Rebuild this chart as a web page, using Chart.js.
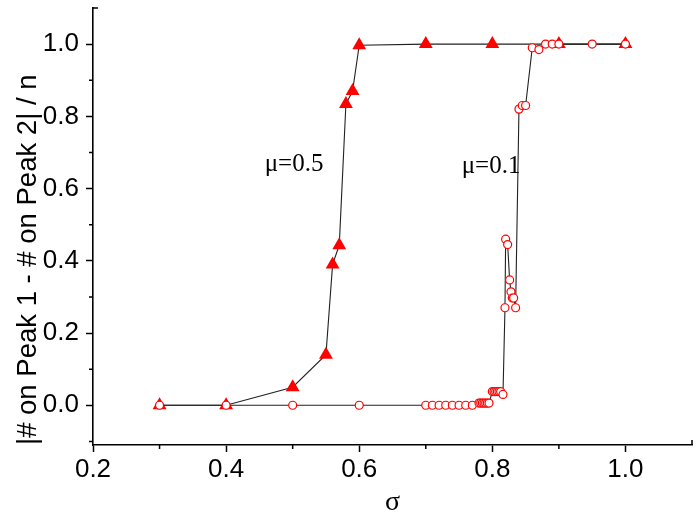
<!DOCTYPE html>
<html><head><meta charset="utf-8">
<script src="https://cdn.jsdelivr.net/npm/chart.js@4.4.1/dist/chart.umd.min.js"></script>
<style>html,body{margin:0;padding:0;background:#fff}#wrap{width:700px;height:519px;position:relative}</style>
</head><body><div id="wrap"><canvas id="c" width="700" height="519"></canvas></div>
<script>
// μ = 0.5 (filled triangles)
const sigmaMu05 = [0.3, 0.4, 0.5, 0.55, 0.56, 0.57, 0.58, 0.59, 0.6, 0.7, 0.8, 0.9, 1.0];
const valueMu05 = [0, 0, 0.05, 0.14, 0.39, 0.443, 0.834, 0.87, 0.997, 1.0, 1.0, 1.0, 1.0];
// μ = 0.1 (open circles)
const sigmaMu01 = [0.3, 0.4, 0.5, 0.6, 0.7, 0.71, 0.72, 0.73, 0.74, 0.75, 0.76, 0.77,
  0.78, 0.7825, 0.785, 0.7875, 0.79, 0.7925, 0.795,
  0.8, 0.8025, 0.805, 0.8075, 0.81, 0.8125, 0.816,
  0.819, 0.82, 0.823, 0.826, 0.828, 0.83, 0.832, 0.835,
  0.84, 0.845, 0.85, 0.86, 0.87, 0.88, 0.89, 0.9, 0.95, 1.0];
const valueMu01 = [0, 0, 0, 0, 0, 0, 0, 0, 0, 0, 0, 0,
  0.006, 0.006, 0.006, 0.006, 0.006, 0.006, 0.006,
  0.038, 0.038, 0.038, 0.038, 0.038, 0.038, 0.03,
  0.27, 0.46, 0.445, 0.347, 0.314, 0.297, 0.297, 0.27,
  0.82, 0.83, 0.83, 0.99, 0.985, 1.0, 1.0, 1.0, 1.0, 1.0];
const xTickValues = [0.2, 0.4, 0.6, 0.8, 1.0];
const yTickValues = [0.0, 0.2, 0.4, 0.6, 0.8, 1.0];
const xMinorTickValues = [0.3, 0.5, 0.7, 0.9];
const yMinorTickValues = [-0.1, 0.1, 0.3, 0.5, 0.7, 0.9];
const annotationLabels = ['μ=0.5', 'μ=0.1'];
const xTitle = 'σ';
const yTitle = '|# on Peak 1 - # on Peak 2| / n';

const toPoints = (xs, ys) => xs.map((x, i) => ({x: x, y: ys[i]}));

const extras = {
  id: 'extras',
  afterDraw(chart, args, opts) {
    const ctx = chart.ctx;
    const xs = chart.scales.x, ys = chart.scales.y;
    const area = chart.chartArea;
    ctx.save();
    ctx.strokeStyle = '#000';
    ctx.lineWidth = 1.5;
    ctx.beginPath();
    xMinorTickValues.forEach(v => {
      const px = xs.getPixelForValue(v);
      ctx.moveTo(px, area.bottom); ctx.lineTo(px, area.bottom + 4);
    });
    yMinorTickValues.forEach(v => {
      const py = ys.getPixelForValue(v);
      ctx.moveTo(area.left, py); ctx.lineTo(area.left - 4, py);
    });
    // end caps
    ctx.moveTo(area.right, area.bottom); ctx.lineTo(area.right, area.bottom - 5);
    ctx.moveTo(area.left, area.top); ctx.lineTo(area.left + 5, area.top);
    ctx.stroke();
    // annotations
    ctx.fillStyle = '#000';
    ctx.font = '25px "Liberation Serif", "Times New Roman", serif';
    ctx.textBaseline = 'middle';
    ctx.textAlign = 'left';
    opts.positions.forEach((p, i) => {
      ctx.fillText(annotationLabels[i], xs.getPixelForValue(p[0]), ys.getPixelForValue(p[1]));
    });
    ctx.restore();
  }
};

new Chart(document.getElementById('c'), {
  type: 'scatter',
  data: {
    datasets: [
      {
        label: 'μ=0.1',
        data: toPoints(sigmaMu01, valueMu01),
        showLine: true,
        borderColor: '#222',
        borderWidth: 1.1,
        pointStyle: 'circle',
        pointRadius: 4,
        pointBorderColor: '#ff0000',
        pointBackgroundColor: '#ffffff',
        pointBorderWidth: 1.2,
        order: 0
      },
      {
        label: 'μ=0.5',
        data: toPoints(sigmaMu05, valueMu05),
        showLine: true,
        borderColor: '#222',
        borderWidth: 1.1,
        pointStyle: 'triangle',
        pointRadius: 8,
        pointBorderColor: '#ff0000',
        pointBackgroundColor: '#ff0000',
        pointBorderWidth: 0,
        order: 1
      }
    ]
  },
  options: {
    responsive: false,
    animation: false,
    layout: {padding: {top: 4, right: 6, left: 0, bottom: 0}},
    plugins: {
      legend: {display: false},
      tooltip: {enabled: false},
      extras: {positions: [[0.458, 0.668], [0.754, 0.66]]}
    },
    scales: {
      x: {
        type: 'linear',
        min: 0.2, max: 1.1,
        afterBuildTicks: s => { s.ticks = xTickValues.map(v => ({value: v})); },
        afterFit: s => { s.height = 74; s.paddingLeft = 0; s.paddingRight = 0; },
        border: {display: true, color: '#000', width: 1.6},
        grid: {drawOnChartArea: false, drawTicks: true, tickLength: 7, color: '#000', tickWidth: 1.5},
        ticks: {
          color: '#000', padding: 2,
          font: {family: '"Liberation Sans", Arial, sans-serif', size: 26},
          callback: v => Number(v).toFixed(1)
        },
        title: {
          display: true, text: xTitle, color: '#000',
          font: {family: '"Liberation Serif", "Times New Roman", serif', size: 28, lineHeight: 1.2},
          padding: {top: 0, bottom: 0}
        }
      },
      y: {
        type: 'linear',
        min: -0.11, max: 1.1,
        afterBuildTicks: s => { s.ticks = yTickValues.map(v => ({value: v})); },
        afterFit: s => { s.width = 93; s.paddingTop = 0; s.paddingBottom = 0; },
        border: {display: true, color: '#000', width: 1.6},
        grid: {drawOnChartArea: false, drawTicks: true, tickLength: 7, color: '#000', tickWidth: 1.5},
        ticks: {
          color: '#000', padding: 7,
          font: {family: '"Liberation Sans", Arial, sans-serif', size: 26},
          callback: v => Number(v).toFixed(1)
        },
        title: {
          display: true, text: yTitle, color: '#000', align: 'start',
          font: {family: '"Liberation Sans", Arial, sans-serif', size: 27.5, lineHeight: 1.2},
          padding: {top: 12, bottom: 0}
        }
      }
    }
  },
  plugins: [extras]
});
</script>
</body></html>
